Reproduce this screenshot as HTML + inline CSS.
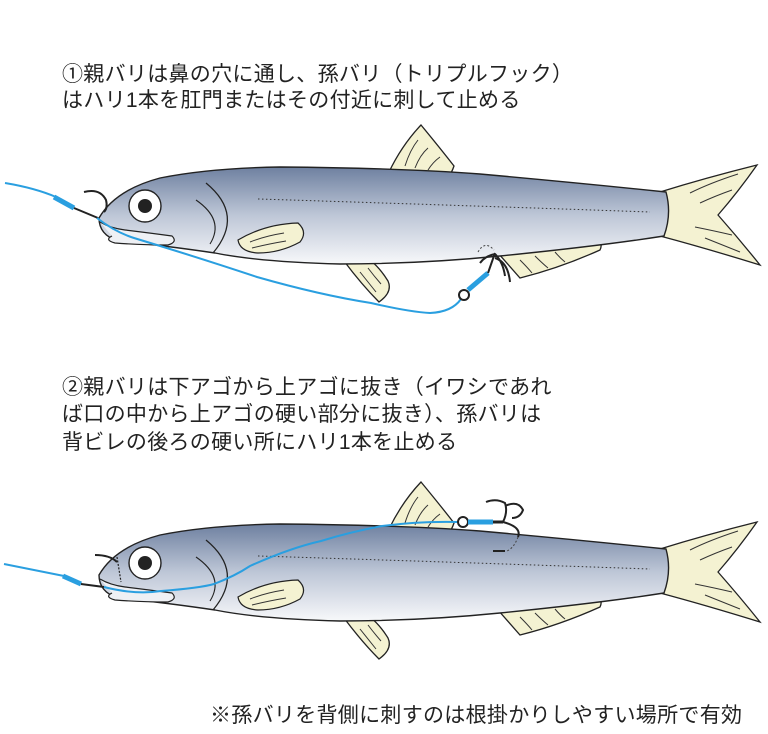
<!DOCTYPE html>
<html><head><meta charset="utf-8"><style>
html,body{margin:0;padding:0;background:#fff;}
body{width:768px;height:734px;position:relative;overflow:hidden;font-family:"Liberation Sans","Noto Sans CJK JP",sans-serif;color:#222;}
.t{position:absolute;font-size:21px;line-height:26px;white-space:nowrap;letter-spacing:0.3px;}
svg{position:absolute;left:0;top:0;}
</style></head><body>
<svg width="768" height="734" viewBox="0 0 768 734">
<defs>
<linearGradient id="g" x1="0" y1="0" x2="0" y2="1">
<stop offset="0" stop-color="#6e80a0"/><stop offset="0.5" stop-color="#bec7d7"/><stop offset="1" stop-color="#f7f8fa"/>
</linearGradient>
<g id="fish">
<path d="M389,172 Q402,145 421,125 Q440,148 454,166 Q452,172 448,178 Z" fill="#f4f2d2" stroke="#222" stroke-width="1.3"/>
<path d="M405,166 Q410,150 418,140 M415,168 Q420,155 428,148 M428,170 Q433,162 440,157" stroke="#333" fill="none" stroke-width="1"/>
<path d="M498,253 Q555,246 594,236 Q604,242 600,250 Q560,268 520,278 Z" fill="#f4f2d2" stroke="#222" stroke-width="1.3"/>
<path d="M520,260 Q528,268 532,273 M535,256 Q542,263 548,268 M555,252 Q560,258 565,262" stroke="#333" fill="none"/>
<path d="M344,261 Q362,285 379,302 Q393,292 388,281 Q380,268 370,260 Z" fill="#f4f2d2" stroke="#222" stroke-width="1.3"/>
<path d="M360,272 Q368,282 376,292 M368,268 Q374,276 381,284" stroke="#333" fill="none"/>
<path d="M660,192 Q705,178 757,165 Q738,192 718,215 Q740,240 760,265 Q705,248 660,236 Z" fill="#f4f2d2" stroke="#222" stroke-width="1.3"/>
<path d="M690,193 Q710,183 738,174 M700,203 Q715,196 732,190 M705,238 Q720,244 740,252 M695,227 Q715,231 732,235" stroke="#333" fill="none"/>
<path d="M99,218 Q115,190 160,178 Q210,168 280,167 Q400,168 480,174 Q580,183 666,192 Q672,214 664,236 Q600,246 500,256 Q420,264 340,264 Q260,262 215,253 Q160,245 118,241 Q99,235 99,218 Z" fill="url(#g)" stroke="#222" stroke-width="1.4"/>
<path d="M100,222 Q110,228 125,230 Q150,233 172,236 Q178,242 168,245 Q140,245 115,243 Q104,240 112,236" fill="#eef0f4" stroke="#222" stroke-width="1.2"/>
<circle cx="145" cy="206" r="16" fill="#fff" stroke="#222" stroke-width="1.4"/>
<circle cx="145" cy="206" r="7" fill="#222"/>
<path d="M206,183 Q245,215 213,253" stroke="#222" fill="none" stroke-width="1.3"/>
<path d="M196,200 Q225,220 210,244" stroke="#222" fill="none" stroke-width="1.1"/>
<path d="M238,240 Q265,224 298,223 Q308,232 300,242 Q280,253 258,253 Q240,252 238,240 Z" fill="#f4f2d2" stroke="#222" stroke-width="1.2"/>
<path d="M250,242 Q265,236 284,233 M252,248 Q268,244 286,241" stroke="#333" fill="none"/>
<path d="M258,199 Q450,205 650,212" stroke="#333" fill="none" stroke-width="1" stroke-dasharray="1.5,2.5"/>
</g>
</defs>
<use href="#fish"/>
<g transform="translate(0,357)"><use href="#fish"/></g>
<path d="M5,183 Q35,188 56,197" stroke="#2a9fe0" fill="none" stroke-width="2"/>
<path d="M54,197 L74,208" stroke="#2a9fe0" stroke-width="5"/>
<path d="M74,208 L98,218" stroke="#222" stroke-width="2"/>
<path d="M84,192 Q100,188 106,200 Q108,208 104,212" stroke="#222" fill="none" stroke-width="2"/>
<path d="M97,218 Q115,232 134,238 Q200,258 257,277 Q320,295 371,303 Q410,312 430,313 Q452,312 461,299" stroke="#2a9fe0" fill="none" stroke-width="2"/>
<circle cx="464" cy="295" r="5" fill="none" stroke="#222" stroke-width="2"/>
<path d="M468,290 L488,273" stroke="#2a9fe0" stroke-width="5"/>
<path d="M488,273 L495,253 M495,254 Q485,256 480,263 M495,254 Q503,262 505,276 M495,258 Q508,262 510,282" stroke="#222" fill="none" stroke-width="2"/>
<path d="M478,252 Q485,240 494,250" stroke="#444" fill="none" stroke-dasharray="2,2"/>
<path d="M4,564 L64,576" stroke="#2a9fe0" fill="none" stroke-width="2"/>
<path d="M63,576 L81,584" stroke="#2a9fe0" stroke-width="5"/>
<path d="M81,584 L104,587" stroke="#222" stroke-width="2"/>
<path d="M95,555 Q110,555 117,562" stroke="#222" fill="none" stroke-width="2"/>
<path d="M117,557 L121,582" stroke="#222" fill="none" stroke-width="1.2" stroke-dasharray="2,1.5"/>
<path d="M104,587 Q135,595 161,591 Q200,588 214,584 Q235,576 250,566 Q290,548 321,541 Q350,532 382,526 Q420,521 459,522" stroke="#2a9fe0" fill="none" stroke-width="2"/>
<circle cx="463" cy="522" r="5" fill="none" stroke="#222" stroke-width="2"/>
<path d="M468,522 L493,522" stroke="#2a9fe0" stroke-width="5"/>
<path d="M493,522 L503,522" stroke="#222" stroke-width="3"/>
<path d="M486,502 Q496,498 505,503 Q508,512 503,522 M505,506 Q518,500 523,510 Q520,518 512,518 M503,522 Q522,527 518,537" stroke="#222" fill="none" stroke-width="2"/>
<path d="M518,537 Q514,548 507,551" stroke="#444" fill="none" stroke-dasharray="2,2"/>
<path d="M493,551 L505,551" stroke="#222" stroke-width="2"/>
</svg>
<div class="t" style="left:62px;top:62px;">①親バリは鼻の穴に通し、孫バリ（トリプルフック）</div>
<div class="t" style="left:62px;top:88px;">はハリ1本を肛門またはその付近に刺して止める</div>
<div class="t" style="left:62px;top:375px;">②親バリは下アゴから上アゴに抜き（イワシであれ</div>
<div class="t" style="left:62px;top:402px;">ば口の中から上アゴの硬い部分に抜き）、孫バリは</div>
<div class="t" style="left:62px;top:430px;">背ビレの後ろの硬い所にハリ1本を止める</div>
<div class="t" style="left:210px;top:703px;font-size:21px;">※孫バリを背側に刺すのは根掛かりしやすい場所で有効</div>
</body></html>
